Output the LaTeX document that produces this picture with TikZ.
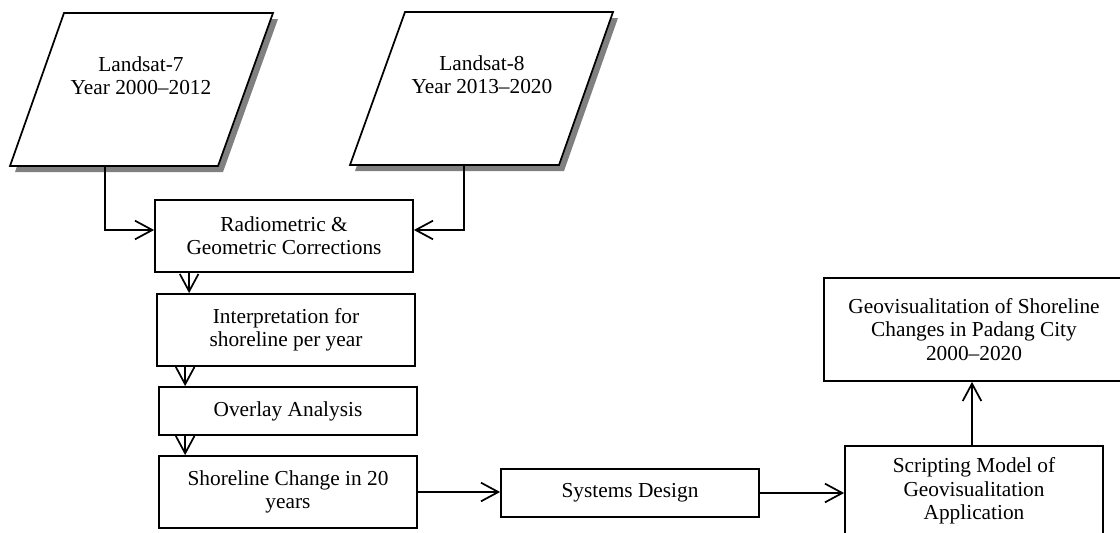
\documentclass[tikz,border=0pt]{standalone}
\usepackage{fontspec}
\setmainfont{Liberation Serif}
\usetikzlibrary{arrows.meta}
\begin{document}
\begin{tikzpicture}[x=0.75pt,y=-0.75pt,
  box/.style={draw=black,line width=1.3pt,fill=white,rectangle,inner sep=0pt,align=center,
    font=\fontsize{16}{17.5}\selectfont,minimum width=193.5pt},
  para/.style={draw=black,line width=1.3pt,fill=white},
  shadowfill/.style={fill=black!50,draw=none},
  ptext/.style={align=center,inner sep=0pt,font=\fontsize{16}{17.5}\selectfont},
  conn/.style={line width=1.3pt,-{Straight Barb[length=13pt,width=14pt,line width=1.3pt]}}]
\useasboundingbox (0,0) rectangle (1120,532);
\clip (0,0) rectangle (1120,532);
% Landsat-7 parallelogram
\fill[shadowfill] (69,19) -- (278,19) -- (223,172) -- (15,172) -- cycle;
\draw[para] (64,13) -- (273,13) -- (218,166) -- (10,166) -- cycle;
\node[ptext] (l7) at (141,76) {Landsat-7\\Year 2000--2012};
% Landsat-8 parallelogram
\fill[shadowfill] (410,18) -- (618,18) -- (564,171) -- (355,171) -- cycle;
\draw[para] (405,12) -- (613,12) -- (559,165) -- (350,165) -- cycle;
\node[ptext] (l8) at (482,75) {Landsat-8\\Year 2013--2020};
\coordinate (l7out) at (105,166);
\coordinate (l8out) at (464,165);
% boxes
\node[box,minimum height=54pt] (rad) at (284,236) {Radiometric \&\\Geometric Corrections};
\node[box,minimum height=54pt] (interp) at (286,330) {Interpretation for\\shoreline per year};
\node[box,minimum height=36pt] (over) at (288,411) {Overlay Analysis};
\node[box,minimum height=54pt] (shore) at (288,492) {Shoreline Change in 20\\years};
\node[box,minimum height=36pt] (sys) at (630,493) {Systems Design};
\node[box,minimum height=67.5pt] (script) at (974,491) {Scripting Model of\\Geovisualitation\\Application};
\node[box,minimum width=225pt,minimum height=77.25pt] (geo) at (974,329.5) {Geovisualitation of Shoreline\\Changes in Padang City\\2000--2020};
% connectors
\draw[conn] (l7out) |- ([yshift=4.5pt]rad.west);
\draw[conn] (l8out) |- ([yshift=4.5pt]rad.east);
\path ([xshift=26.25pt]rad.south west) coordinate (a1);
\draw[conn] (a1) -- (a1 |- interp.north);
\path ([xshift=21.75pt]interp.south west) coordinate (a2);
\draw[conn] (a2) -- (a2 |- over.north);
\path ([xshift=20.25pt]over.south west) coordinate (a3);
\draw[conn] (a3) -- (a3 |- shore.north);
\draw[conn] (shore.east) -- (shore.east -| sys.west);
\draw[conn] (sys.east) -- (sys.east -| script.west);
\draw[conn] ([xshift=-1.5pt]script.north) -- ([xshift=-1.5pt]script.north |- geo.south);
\end{tikzpicture}
\end{document}
